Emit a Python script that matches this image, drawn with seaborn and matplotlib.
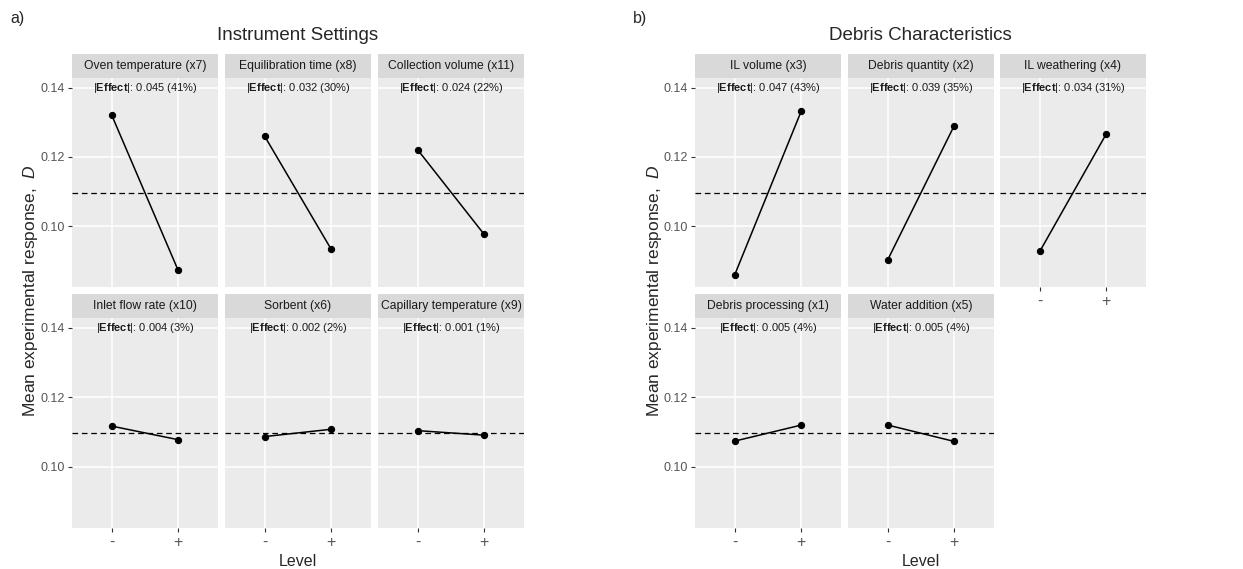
import numpy as np
import pandas as pd
import matplotlib
matplotlib.use("Agg")
import matplotlib.pyplot as plt
import seaborn as sns

# Main effects
levels = ["-", "+"]

left_factors = ["Oven temperature (x7)", "Equilibration time (x8)", "Collection volume (x11)",
                "Inlet flow rate (x10)", "Sorbent (x6)", "Capillary temperature (x9)"]
left_low = [0.1320, 0.1259, 0.1220, 0.1117, 0.1087, 0.1104]
left_high = [0.0872, 0.0933, 0.0976, 0.1078, 0.1108, 0.1091]
left_effect = ["0.045 (41%)", "0.032 (30%)", "0.024 (22%)",
               "0.004 (3%)", "0.002 (2%)", "0.001 (1%)"]

right_factors = ["IL volume (x3)", "Debris quantity (x2)", "IL weathering (x4)",
                 "Debris processing (x1)", "Water addition (x5)"]
right_low = [0.0860, 0.0903, 0.0927, 0.1074, 0.1120]
right_high = [0.1332, 0.1290, 0.1266, 0.1120, 0.1073]
right_effect = ["0.047 (43%)", "0.039 (35%)", "0.034 (31%)",
                "0.005 (4%)", "0.005 (4%)"]

grand_mean = 0.1097
yticks = [0.10, 0.12, 0.14]

sns.set_theme(style="darkgrid")
plt.rcParams["font.family"] = ["Liberation Sans", "DejaVu Sans"]
plt.rcParams["mathtext.fontset"] = "custom"
plt.rcParams["mathtext.rm"] = "Liberation Sans"
plt.rcParams["mathtext.it"] = "Liberation Sans:italic"
plt.rcParams["mathtext.bf"] = "Liberation Sans:bold"

W, H = 1243, 569
fig = plt.figure(figsize=(W / 100, H / 100), dpi=100)

def box(x0, y0, w, h):
    return [x0 / W, 1 - (y0 + h) / H, w / W, h / H]

col_w = 146
rows = [(54, 78, 287), (294, 318, 528)]   # strip top, panel top, panel bottom


def make_group(factors, low, high, effect, xcols, title, tag, ylab_x, tag_x):
    df = pd.DataFrame({
        "factor": np.repeat(factors, 2),
        "pos": [0, 1] * len(factors),
        "D": np.ravel(np.column_stack([low, high])),
    })
    n = len(factors)
    for i, f in enumerate(factors):
        r, c = divmod(i, 3)
        st, pt, pb = rows[r]
        ax = fig.add_axes(box(xcols[c], pt, col_w, pb - pt))
        ax.set_facecolor("#EBEBEB")
        sub = df[df.factor == f]
        sns.lineplot(data=sub, x="pos", y="D", ax=ax, color="black", marker="o",
                     markersize=4.5, markeredgecolor="black", linewidth=1.1)
        ax.axhline(grand_mean, color="black", ls=(0, (4.5, 3)), lw=0.9)
        ax.set_xlim(-0.6, 1.6)
        ax.set_ylim(0.0824, 0.1428)
        ax.set_xticks([0, 1])
        ax.set_yticks(yticks)
        ax.grid(True, color="white", lw=1.1)
        for s in ax.spines.values():
            s.set_visible(False)
        ax.set_xlabel("")
        ax.set_ylabel("")
        ax.text(0.5, 0.14, r"|$\mathbf{Effect}$|: " + effect[i], transform=ax.get_yaxis_transform(),
                ha="center", va="center", fontsize=8, color="#1A1A1A")
        bottom = (i + 3 >= n)
        if bottom:
            ax.set_xticklabels(levels, fontsize=11.5, color="#555555")
            ax.tick_params(axis="x", length=3, width=0.8, color="#333333", pad=2, bottom=True)
        else:
            ax.set_xticklabels([])
            ax.tick_params(axis="x", length=0)
        if c == 0:
            ax.set_yticklabels(["0.10", "0.12", "0.14"], fontsize=9, color="#555555")
            ax.tick_params(axis="y", length=3, width=0.8, color="#333333", pad=2, left=True)
        else:
            ax.set_yticklabels([])
            ax.tick_params(axis="y", length=0)
        sax = fig.add_axes(box(xcols[c], st, col_w, pt - st))
        sax.set_facecolor("#D9D9D9")
        sax.set_xticks([])
        sax.set_yticks([])
        for s in sax.spines.values():
            s.set_visible(False)
        sax.text(0.5, 0.5, f, ha="center", va="center", fontsize=8.7, color="#1A1A1A",
                 transform=sax.transAxes)
    cx = (xcols[0] + xcols[2] + col_w) / 2
    fig.text(cx / W, 1 - 36 / H, title, ha="center", va="center", fontsize=13.5)
    fig.text(cx / W, 1 - 561 / H, "Level", ha="center", va="center", fontsize=11.5)
    fig.text(ylab_x / W, 1 - 291 / H, r"Mean experimental response,  $\mathit{D}$",
             rotation=90, ha="center", va="center", fontsize=12.5)
    fig.text(tag_x / W, 1 - 18 / H, tag, ha="left", va="center", fontsize=11.5)


make_group(left_factors, left_low, left_high, left_effect, [72, 225, 378],
           "Instrument Settings", "a)", 31, 10)
make_group(right_factors, right_low, right_high, right_effect, [695, 848, 1000],
           "Debris Characteristics", "b)", 654, 633)

fig.savefig("out.png", dpi=100, facecolor="white")
